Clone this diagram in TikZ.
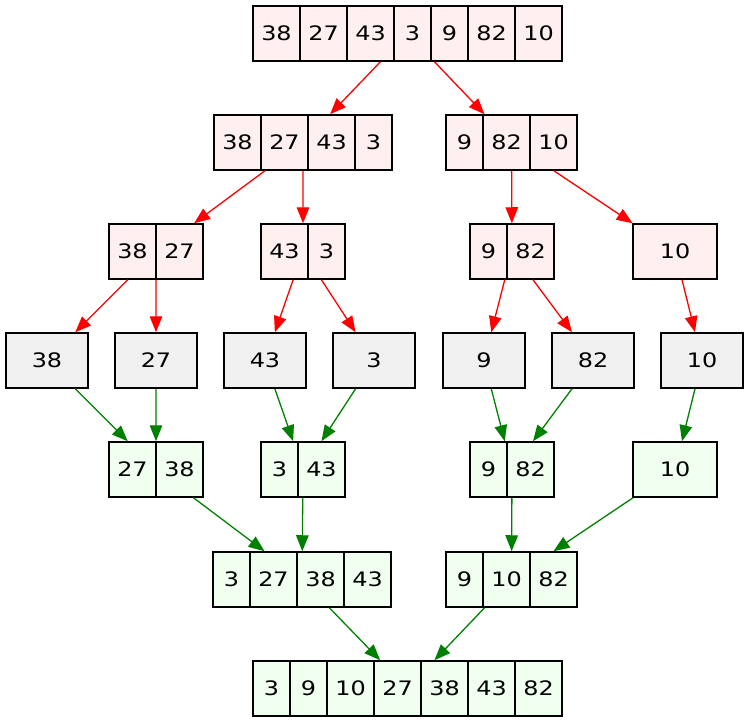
\documentclass[tikz,border=0pt]{standalone}
\usepackage{fontspec}
\usetikzlibrary{arrows.meta,fit}
\newfontfamily\cellfont[FakeStretch=1.2]{DejaVu Sans}
\definecolor{splitfill}{HTML}{FFF0F0}
\definecolor{leaffill}{HTML}{F0F0F0}
\definecolor{mergefill}{HTML}{F0FFF0}
\definecolor{mergeline}{HTML}{008000}
\newcommand\cellstrut{\rule[-20.3bp]{0pt}{55bp}}
% one array: style, name, left edge, list of values
\newcommand\arr[4]{%
  \foreach \v [count=\i] in {#4} {
    \ifnum\v>9 \def\w{47bp}\else\def\w{37bp}\fi
    \pgfmathtruncatemacro\j{\i-1}
    \ifnum\i=1
      \node[#1, minimum width=\w, anchor=west] (#2-\i) at #3 {\cellstrut\v};
    \else
      \node[#1, minimum width=\w, anchor=west] (#2-\i) at (#2-\j.east) {\cellstrut\v};
    \fi
    \xdef\lastcell{\i}
  }
  \node[fit=(#2-1)(#2-\lastcell), inner sep=0pt, outer sep=0.75bp] (#2) {};
}

\begin{document}
\begin{tikzpicture}[
x=1bp, y=-1bp,
box/.style={draw, line width=1.5bp, inner sep=0pt, outer sep=0pt, minimum height=55bp, font=\cellfont\fontsize{20}{24}\selectfont},
split/.style={box, fill=splitfill},
leaf/.style={box, fill=leaffill, minimum width=82bp, outer sep=0.75bp},
merge/.style={box, fill=mergefill},
single/.style={minimum width=84bp, outer sep=0.75bp},
down/.style={-{Triangle[length=16bp,width=12.5bp]}, line width=1.3bp, red},
up/.style={-{Triangle[length=16bp,width=12.5bp]}, line width=1.3bp, mergeline}
]
\useasboundingbox (0,0) rectangle (750,722);

% splitting
\arr{split}{all}{(253,33.5)}{38,27,43,3,9,82,10}
\arr{split}{left}{(214,142.5)}{38,27,43,3}
\arr{split}{right}{(446,142.5)}{9,82,10}
\arr{split}{ll}{(109,251.5)}{38,27}
\arr{split}{lr}{(261,251.5)}{43,3}
\arr{split}{rl}{(470,251.5)}{9,82}
\node[split, single] (rr) at (675,251.5) {\cellstrut 10};

% single elements
\node[leaf] (e38) at (47,360.5) {\cellstrut 38};
\node[leaf] (e27) at (156,360.5) {\cellstrut 27};
\node[leaf] (e43) at (265,360.5) {\cellstrut 43};
\node[leaf] (e3) at (374,360.5) {\cellstrut 3};
\node[leaf] (e9) at (484,360.5) {\cellstrut 9};
\node[leaf] (e82) at (593,360.5) {\cellstrut 82};
\node[leaf] (e10) at (702,360.5) {\cellstrut 10};

% merging
\arr{merge}{mll}{(109,469.5)}{27,38}
\arr{merge}{mlr}{(261,469.5)}{3,43}
\arr{merge}{mrl}{(470,469.5)}{9,82}
\node[merge, single] (mrr) at (675,469.5) {\cellstrut 10};
\arr{merge}{mleft}{(213,579.5)}{3,27,38,43}
\arr{merge}{mright}{(446,579.5)}{9,10,82}
\arr{merge}{sorted}{(253,688.5)}{3,9,10,27,38,43,82}

\draw[down] (all) -- (left);
\draw[down] (all) -- (right);
\draw[down] (left) -- (ll);
\draw[down] (left) -- (lr);
\draw[down] (right) -- (rl);
\draw[down] (right) -- (rr);
\draw[down] (ll) -- (e38);
\draw[down] (ll) -- (e27);
\draw[down] (lr) -- (e43);
\draw[down] (lr) -- (e3);
\draw[down] (rl) -- (e9);
\draw[down] (rl) -- (e82);
\draw[down] (rr) -- (e10);

\draw[up] (e38) -- (mll);
\draw[up] (e27) -- (mll);
\draw[up] (e43) -- (mlr);
\draw[up] (e3) -- (mlr);
\draw[up] (e9) -- (mrl);
\draw[up] (e82) -- (mrl);
\draw[up] (e10) -- (mrr);
\draw[up] (mll) -- (mleft);
\draw[up] (mlr) -- (mleft);
\draw[up] (mrl) -- (mright);
\draw[up] (mrr) -- (mright);
\draw[up] (mleft) -- (sorted);
\draw[up] (mright) -- (sorted);
\end{tikzpicture}
\end{document}
